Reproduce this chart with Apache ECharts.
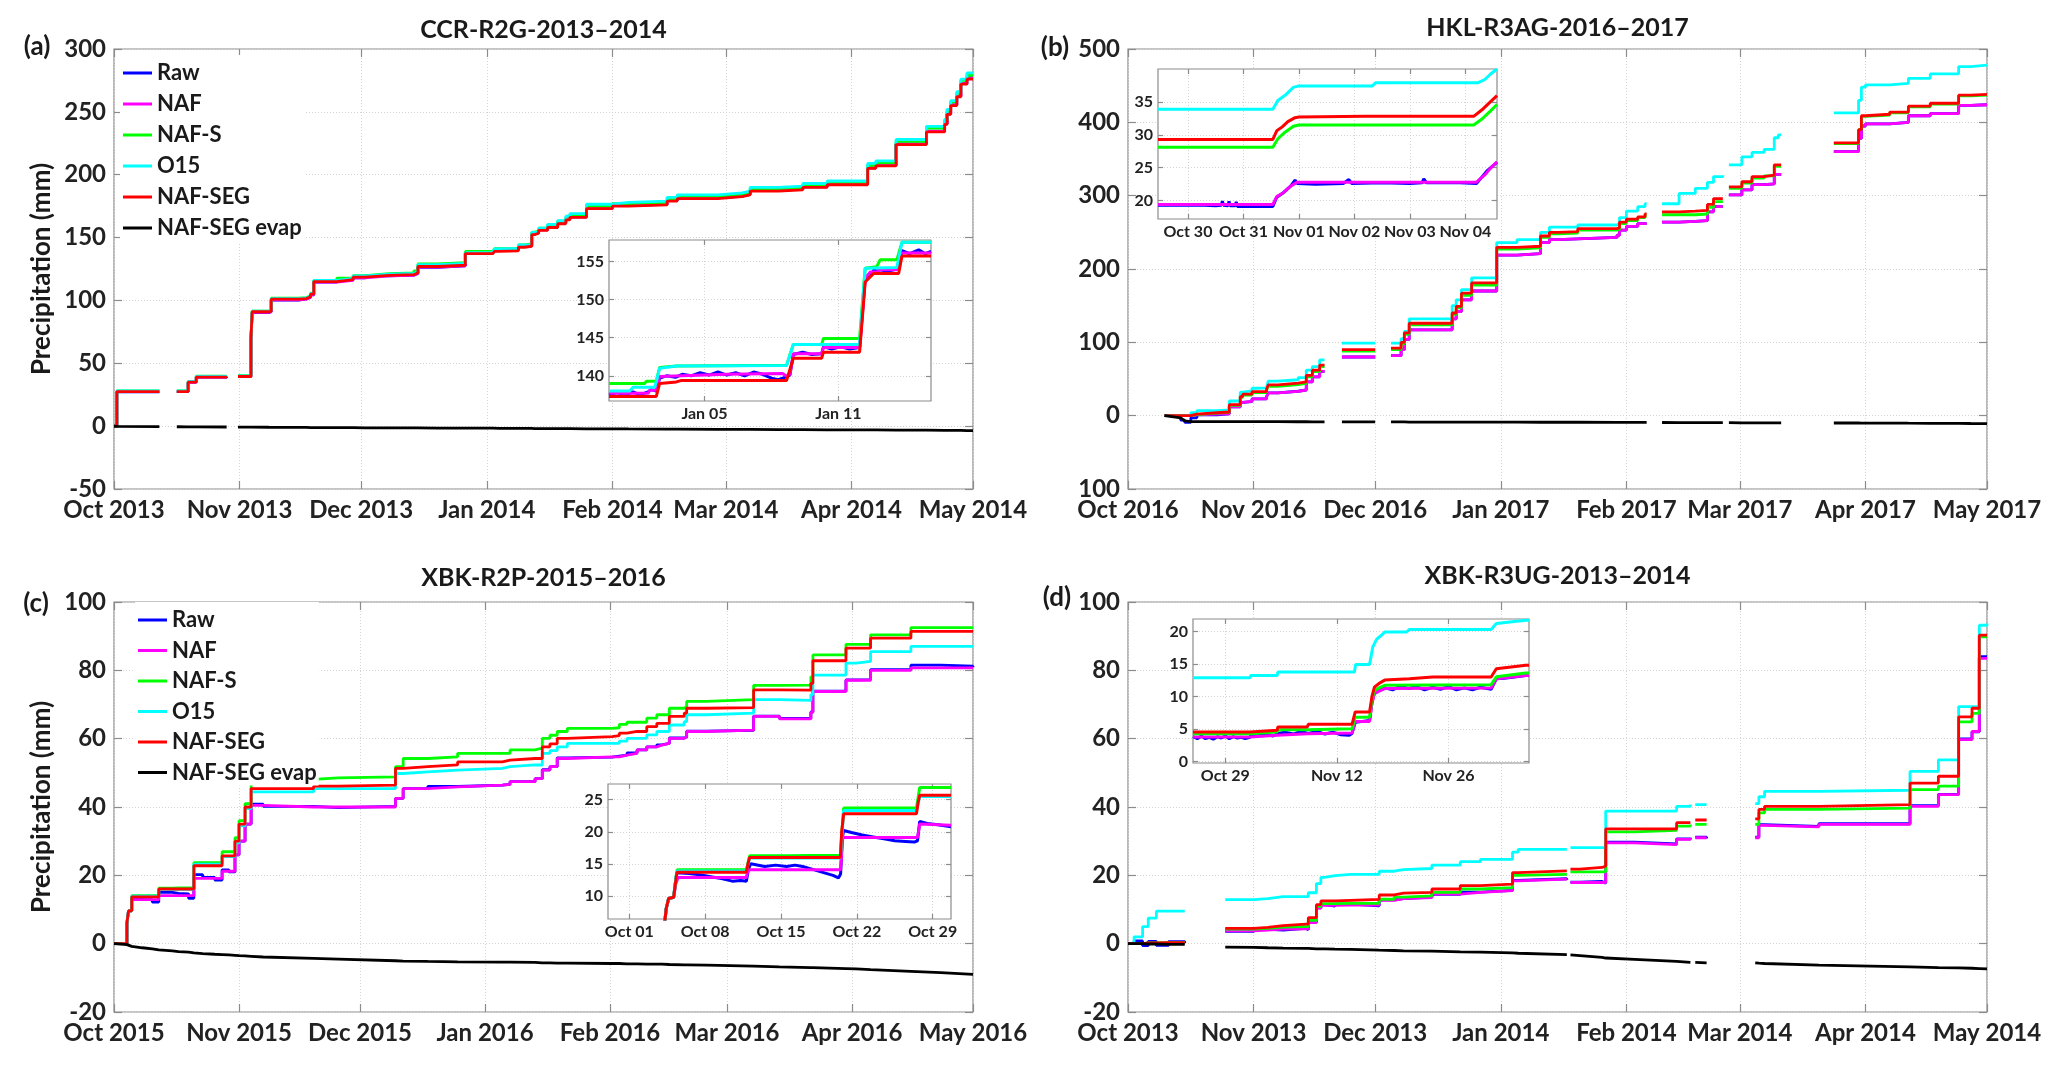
<!DOCTYPE html>
<html><head><meta charset="utf-8">
<script src="https://cdn.jsdelivr.net/npm/echarts@6.0.0/dist/echarts.min.js"></script>
<style>html,body{margin:0;padding:0;background:#fff}#c{width:2067px;height:1067px}</style>
</head><body><div id="c"></div>
<script>
// ---------- names / colours ----------
const NAMES = ['Raw','NAF','NAF-S','O15','NAF-SEG','NAF-SEG evap'];
const COLORS = ['#0000ff','#ff00ff','#00ff00','#00ffff','#ff0000','#000000'];

// ---------- panel (a) CCR-R2G-2013–2014 : days since 2013-10-01 ----------
const a_days = [0,0.7,11.2,11.3,15.5,18.3,20.3,27.8,27.9,30.6,33.3,33.8,34.1,38.2,38.8,45.6,47.5,48.5,49.3,55,59,62,68,74,75,80,86.7,92.7,93.5,93.9,95,99.8,101.3,103.1,103.8,104.8,107,109.5,111.5,112.5,116.6,123,127,136.5,139,149,155,157,164,170,176,183,186,188,193,200.5,205,205.6,206.5,208,209,210.5,212];
const a_seg  = [0,27.5,27.5,null,27.5,35,39,39.5,null,39.5,39.5,70,91,91.5,101,101.5,103,105,115,116.5,118.5,120,120.5,122,127,128,137.3,137.3,137.3,139,139.4,142.3,143.1,152.3,153.4,155.7,158,161,164,166,173,175,176,179,181,182.5,184,187,188,190,192,192,205,207,224,234,240,248,255,262,272,276,276];
const a_o15  = [0,28,28,null,28,35.5,39.5,40,null,40,40,70.5,91.5,92,101.5,102,103.5,105.5,116,117.5,119.5,121,121.5,123,128.5,129.5,138,138.5,138.5,141,141.35,144.1,144.1,154.1,154.1,157.5,160.5,163.5,167,169,176.5,178,179,182,184,185.5,187,190,191,193,195,195,209,211,228,238.5,244,252,259,266,276,281,281];
const a_nafs = [0,28,28,null,28,35.5,39.8,40.2,null,40.2,40.2,70.5,91.5,92,101.8,102.3,103.8,105.8,116,117.8,119.8,121.3,121.8,123.4,129,130,139,139,139.3,141.1,141.4,144.1,144.9,154.3,155.2,157.5,160,163,166,168,175,177,178,181,183,184.5,186,189,190,192,194,194,207.5,209.5,226.5,237,243,251,258,265,275,279,279];
const a_naf  = [0,27.5,27.5,null,27.5,35,39,39.5,null,39.5,39.5,69.5,90.5,91,100.5,101,102.5,104.5,114.5,116,118,119.5,120,121.5,126.5,127.5,137.7,137.7,138.1,139.9,140.1,142.9,143.7,152.8,153.9,156.1,158.5,161.5,164.5,166.5,173.5,175.5,176.5,179.5,181.5,183,184.5,187.5,188.5,190.5,192.5,192.5,205.5,207.5,224.5,234.5,240.5,248.5,255.5,262.5,272.5,277,277];
const a_raw  = [0,27.3,27.6,null,27.4,35,39,39.6,null,39.4,39.5,69.5,90.3,91,100.3,101.2,102.5,104.4,114.5,116.2,118,119.6,120.1,121.4,126.4,127.6,137.6,137.8,138,140,140.3,143,143.6,152.7,154,156.3,158.4,161.5,164.6,166.4,173.5,175.4,176.6,179.4,181.6,183,184.4,187.6,188.5,190.4,192.6,192.5,205.5,207.6,224.5,234.6,240.5,248.4,255.6,262.5,272.4,277.3,277];
const a_evap = [0,-0.2,-0.4,null,-0.5,-0.6,-0.6,-0.7,null,-0.8,-0.8,-0.8,-0.9,-0.9,-1,-1,-1,-1.1,-1.1,-1.2,-1.2,-1.3,-1.3,-1.4,-1.4,-1.5,-1.6,-1.6,-1.6,-1.7,-1.7,-1.8,-1.8,-1.8,-1.9,-1.9,-1.9,-2,-2,-2,-2.1,-2.1,-2.2,-2.3,-2.3,-2.5,-2.6,-2.6,-2.7,-2.8,-2.9,-3,-3,-3,-3.1,-3.2,-3.3,-3.3,-3.3,-3.4,-3.4,-3.5,-3.5];
const a_xticks = [0,31,61,92,123,151,182,212];
const a_xlabels = ['Oct 2013','Nov 2013','Dec 2013','Jan 2014','Feb 2014','Mar 2014','Apr 2014','May 2014'];
const a_yticks = [-50,0,50,100,150,200,250,300];
const a_ylabels = ['-50','0','50','100','150','200','250','300'];

// inset (a): days since 2014-01-05
const ia_raw  = [[-4.28,137.5],[-3.9,137.8],[-3.6,137.4],[-3.2,137.9],[-2.9,137.5],[-2.53,137.9],[-2.4,138.2],[-2.16,138.0],[-2.01,139.7],[-1.7,140.0],[-1.3,139.8],[-1.0,140.2],[-0.6,140.0],[-0.2,140.4],[0.2,140.1],[0.6,140.5],[1.0,140.1],[1.4,140.4],[1.8,140.0],[2.2,140.5],[2.6,140.2],[3.0,139.7],[3.3,139.5],[3.6,139.8],[3.83,140.1],[3.98,142.8],[4.4,143.1],[4.8,142.8],[5.25,142.9],[5.33,143.8],[5.7,143.5],[6.1,143.8],[6.5,143.5],[6.95,143.7],[7.2,152.6],[7.4,153.0],[7.6,153.9],[7.72,153.7],[7.87,153.9],[8.2,153.7],[8.62,154.0],[8.85,156.4],[9.2,156.0],[9.6,156.5],[9.9,156.0],[10.15,156.3]];
const ia_naf  = [[-4.28,137.7],[-2.53,137.7],[-2.45,138.1],[-2.16,138.1],[-2.01,139.9],[-1.0,140.0],[1,140.2],[3.5,140.3],[3.68,139.95],[3.83,140.2],[3.98,142.9],[5.25,142.9],[5.33,143.7],[6.95,143.7],[7.2,152.8],[7.43,153.6],[7.72,153.6],[7.87,153.9],[8.62,153.9],[8.85,156.1],[10.15,156.1]];
const ia_nafs = [[-4.28,139.0],[-2.68,139.0],[-2.6,139.3],[-2.16,139.3],[-2.01,141.1],[-1.26,141.3],[3.68,141.4],[3.98,144.1],[5.25,144.1],[5.33,144.9],[6.95,144.9],[7.2,154.1],[7.72,154.3],[7.87,155.2],[8.62,155.2],[8.85,157.5],[10.15,157.5]];
const ia_o15  = [[-4.28,138.0],[-3.35,138.0],[-3.2,138.5],[-2.23,138.5],[-2.01,141.0],[-1.26,141.3],[3.68,141.35],[3.98,144.1],[6.95,144.1],[7.2,154.1],[8.62,154.2],[8.85,157.5],[10.15,157.5]];
const ia_seg  = [[-4.28,137.3],[-2.16,137.3],[-2.01,139.0],[-1.26,139.2],[-1.03,139.4],[3.68,139.4],[3.98,142.3],[5.25,142.3],[5.33,143.1],[6.95,143.1],[7.2,152.3],[7.57,153.4],[8.7,153.4],[8.85,155.7],[10.15,155.7]];
const ia_xticks = [0,6], ia_xlabels = ['Jan 05','Jan 11'];
const ia_yticks = [140,145,150,155], ia_ylabels = ['140','145','150','155'];

// ---------- panel (b) HKL-R3AG-2016–2017 : days since 2016-10-01 ----------
const b_days = [9,13,14,15.5,17,22,25,27.7,28.3,30.6,32,34.2,34.6,37,42,44,45.5,47.3,48.5,48.6,52.8,61,61.1,64.9,67.4,68.2,69.4,80,81,82.3,84.8,91,96,101.8,104,106,111,120.7,121.3,123,125.8,127.6,128,128.1,131.8,136,140,143,144.5,146.8,146.9,148.3,151.5,154,157,159.5,160.5,161.2,161.3,174.2,180.3,181,182,188,192.6,198,205,208,212];
const b_seg  = [0,0,0,2,4,5,15,26,29.3,32.8,32.8,35.9,42,44.5,46,55,62,69,69,null,90,90,null,92,100,113,126,140,149,167,181,229.5,231,245,250,251,255,256,264,268,271,275,275,null,278,279,280,288,296,296,null,312,319,326,328,342,342,342,null,372,390,409,411,414,422,426,437,438,438];
const b_o15  = [0,0,0,4,7,8,20,32,33.9,37.4,37.9,40,47,49,52,62,67,76,76,null,99,99,null,99,105,115,132,150,158,172,188,236,240,250,257,257,260,262,270,279,285,289,289,null,289,303,310,318,326,328,null,342,353,359,363,379,383,383,null,413,430,448,451,453,460,466,476,478,478];
const b_nafs = [0,0,0,1.5,3.5,4.5,14,25,28.1,31.5,31.5,34.6,40,42.5,44,53,60,67,67,null,88,88,null,90,98,111,124,138,147,164,178,227,229,243,248,249,253,254,262,266,270,273,273,null,274,274,275,284,292,292,null,310,317,324,327,340,340,340,null,371,390,408,410,413,421,425,436,437,437];
const b_naf  = [0,0,0,1,2,2.5,12,18,19.4,22.8,22.8,25.9,31,33,35,46,53,60.5,60.5,null,80,80,null,82,90,104,117,132,142,158,170,219,221,236,240,241,243,246,253,258,262,262,262,null,264,265,266,278,285,285,null,301,308,315,316,329,329,329,null,360,378,395,398,400,409,412,423,424,424];
const b_raw  = [0,-6,-9,-3,1,2.5,12,18,19.2,22.8,22.9,25.9,31,33.3,35,46,53,60.5,60.5,null,80,80,null,82,90,104,117,132,142,158,170,219,221,236,240,241,243,246,253,258,262,262,262,null,264,265,266,278,285,285,null,301,308,315,316,329,329,329,null,360,378,395,398,400,409,412,423,424,424];
const b_evap = [0,-3,-7,-8,-8,-8,-8,-8,-8.1,-8.1,-8.1,-8.1,-8.2,-8.2,-8.3,-8.3,-8.4,-8.4,-8.4,null,-8.5,-8.5,null,-8.6,-8.6,-8.6,-8.7,-8.7,-8.8,-8.8,-8.8,-8.9,-8.9,-9,-9,-9,-9,-9.1,-9.1,-9.1,-9.2,-9.2,-9.2,null,-9.3,-9.4,-9.4,-9.5,-9.5,-9.5,null,-9.6,-9.7,-9.7,-9.8,-9.8,-9.8,-9.8,null,-10,-10,-10.1,-10.1,-10.2,-10.3,-10.4,-10.6,-10.7,-10.8];
const b_xticks = [0,31,61,92,123,151,182,212];
const b_xlabels = ['Oct 2016','Nov 2016','Dec 2016','Jan 2017','Feb 2017','Mar 2017','Apr 2017','May 2017'];
const b_yticks = [-100,0,100,200,300,400,500];
const b_ylabels = ['100','0','100','200','300','400','500'];

// inset (b): days since 2016-10-30
const ib_raw  = [[-0.54,19.3],[0.3,19.3],[0.5,19.2],[0.6,19.3],[0.62,19.9],[0.64,19.3],[0.72,19.2],[0.74,19.9],[0.76,19.2],[0.85,19.2],[0.87,19.8],[0.89,19.1],[1.53,19.1],[1.6,20.5],[1.72,21.2],[1.85,22.2],[1.93,23.1],[1.97,22.6],[2.3,22.5],[2.8,22.6],[2.9,23.2],[2.95,22.6],[3.5,22.7],[4.0,22.6],[4.22,22.7],[4.25,23.3],[4.3,22.7],[4.9,22.7],[5.2,22.6],[5.3,23.6],[5.4,24.6],[5.5,25.3],[5.57,25.8]];
const ib_naf  = [[-0.54,19.4],[1.53,19.4],[1.6,20.6],[1.72,21.2],[1.85,22.2],[1.97,22.8],[5.2,22.8],[5.35,23.9],[5.45,24.9],[5.57,25.9]];
const ib_nafs = [[-0.54,28.1],[1.53,28.1],[1.62,29.4],[1.75,30.4],[1.9,31.3],[2.0,31.5],[5.15,31.5],[5.3,32.4],[5.45,33.6],[5.57,34.6]];
const ib_o15  = [[-0.54,33.9],[1.53,33.9],[1.62,35.2],[1.75,36.0],[1.9,37.2],[1.98,37.4],[3.32,37.4],[3.38,37.9],[5.22,37.9],[5.35,38.4],[5.45,39.2],[5.57,40.0]];
const ib_seg  = [[-0.54,29.3],[1.53,29.3],[1.6,30.6],[1.7,31.2],[1.8,32.0],[1.93,32.6],[2.0,32.7],[3.2,32.8],[5.15,32.8],[5.3,33.8],[5.45,35.0],[5.57,35.96]];
const ib_xticks = [0,1,2,3,4,5], ib_xlabels = ['Oct 30','Oct 31','Nov 01','Nov 02','Nov 03','Nov 04'];
const ib_yticks = [20,25,30,35], ib_ylabels = ['20','25','30','35'];

// ---------- panel (c) XBK-R2P-2015–2016 : days since 2015-10-01 ----------
const c_days = [0,3.2,3.6,4.4,7,9.5,11.1,14.5,16,18.5,19.8,22,25,26.8,28.5,30,31,32.5,34,37,49.5,55.6,69.8,71.7,77.8,85.2,96.3,98.2,104.4,106.2,108.1,109.9,112.4,123.5,125.3,127.2,129.7,132.1,134.6,135.8,137.7,141.4,142,146.9,158.6,165,172.8,173.3,181.5,184,187.6,197.6,205,213];
const c_seg  = [0,6,9.6,13.7,13.7,13.7,16,16,16,16,22.8,22.8,22.8,25.7,25.7,30,35,40,45.4,45.4,46.1,46.4,51.3,51.8,52.3,53.2,53.7,54.2,54.2,57.6,58.5,60.1,60.6,60.9,61.6,62.1,62.1,63.5,64.5,64.5,66.5,67.5,68.9,69.1,74.3,74.2,76.2,82.8,86.5,86.5,89.4,91.4,91.4,91.4];
const c_o15  = [0,6,9.6,13.9,13.9,13.9,15.9,15.9,15.9,15.9,23.3,23.3,23.3,25.5,25.5,29.5,34.5,39.5,44.4,44.4,45.4,45.4,49.8,50.3,50.8,51.3,51.8,52.3,52.3,55.7,56.5,57.6,58.6,58.6,59.3,60.1,60.1,61.1,62.1,62.1,64,65,67,67.5,71.4,71.2,72.9,78.6,82.1,82.6,85.5,87,87,87];
const c_nafs = [0,6,9.6,14.06,14.06,14.06,16.25,16.3,16.3,16.3,23.7,23.7,23.7,26.9,26.9,31,36,41,48.1,48.1,48.5,48.8,51.8,54.2,54.7,55.7,55.7,56.7,57.2,60.1,61,62.1,63,63.2,64.2,64.8,64.8,66,67,67,68.9,69.4,70.9,71.4,75.6,75.7,78.1,84.5,87.6,87.6,90.4,92.5,92.5,92.5];
const c_naf  = [0,6,9.6,12.9,12.9,12.9,14.06,14.06,14.06,14.06,19.1,19.1,19.1,21.2,21.2,26,30,35,40.5,40,40,40,42.5,45.4,45.9,46.4,46.6,47.4,48.3,50.8,51.8,54.2,54.7,54.7,55.2,55.7,56.7,57.6,58.1,58.6,60.1,60.6,62.1,62.5,66.5,65.8,67.7,73.8,77.1,77.1,80,80.7,80.7,80.7];
const c_raw  = [0,6,9.6,13.5,12.9,12.2,15,14.7,14.6,13.3,20.2,19.4,18.6,21.6,21,26,30,35,40.8,40.2,39.8,40.2,42.5,45.4,46,46.4,46.6,47.4,48.3,50.9,51.8,54.4,54.6,54.9,55.2,55.8,56.7,57.6,58.2,58.6,60.2,60.5,62.2,62.4,66.6,65.9,67.8,73.9,77.2,77.3,80.2,81.5,81.2,80.9];
const c_evap = [0,-0.3,-0.4,-0.8,-1.2,-1.5,-1.8,-2.1,-2.3,-2.5,-2.7,-2.9,-3.1,-3.2,-3.3,-3.4,-3.5,-3.6,-3.7,-3.9,-4.3,-4.5,-5,-5.1,-5.2,-5.3,-5.4,-5.4,-5.5,-5.6,-5.6,-5.7,-5.7,-5.8,-5.8,-5.9,-5.9,-6,-6,-6,-6.1,-6.2,-6.2,-6.3,-6.6,-6.8,-7,-7,-7.3,-7.4,-7.6,-8.1,-8.5,-9];
const c_xticks = [0,31,61,92,123,152,183,213];
const c_xlabels = ['Oct 2015','Nov 2015','Dec 2015','Jan 2016','Feb 2016','Mar 2016','Apr 2016','May 2016'];
const c_yticks = [-20,0,20,40,60,80,100];
const c_ylabels = ['-20','0','20','40','60','80','100'];

// inset (c): days since 2015-10-01
const ic_raw  = [[0,0],[2.9,0],[3.4,8.0],[3.63,9.6],[4.09,9.8],[4.3,12.8],[4.4,13.6],[5.5,13.5],[6.5,13.3],[7.5,13.0],[8.5,12.7],[9.5,12.3],[10.3,12.4],[10.8,12.3],[11.0,14.2],[11.2,15.0],[12.5,14.6],[13.5,14.8],[14.5,14.6],[15.3,14.8],[16.0,14.6],[17.0,14.1],[18.0,13.6],[18.8,13.2],[19.3,12.8],[19.5,13.4],[19.65,19.0],[19.78,20.2],[20.5,19.9],[21.5,19.5],[22.5,19.2],[23.5,18.9],[24.5,18.6],[25.5,18.5],[26.3,18.4],[26.6,18.6],[26.8,21.6],[27.5,21.3],[28.5,21.1],[29.69,20.8]];
const ic_naf  = [[0,0],[2.9,0],[3.4,8.0],[3.63,9.6],[4.09,9.8],[4.3,12.0],[4.5,12.87],[10.8,12.87],[10.95,14.06],[19.5,14.06],[19.7,19.1],[26.6,19.1],[26.8,21.2],[29.69,21.0]];
const ic_nafs = [[0,0],[2.9,0],[3.4,8.0],[3.63,9.6],[4.09,9.8],[4.3,12.8],[4.4,14.06],[10.8,14.06],[11.1,16.25],[14.5,16.25],[14.6,16.35],[19.48,16.35],[19.78,23.7],[26.5,23.7],[26.8,26.9],[29.69,26.9]];
const ic_o15  = [[0,0],[2.9,0],[3.4,8.0],[3.63,9.6],[4.09,9.8],[4.3,12.7],[4.4,13.9],[10.8,13.9],[11.1,15.9],[19.48,15.9],[19.78,23.3],[26.5,23.3],[26.8,25.5],[29.69,25.5]];
const ic_seg  = [[0,0],[2.9,0],[3.4,8.0],[3.63,9.6],[4.09,9.8],[4.3,12.5],[4.4,13.7],[10.8,13.7],[10.95,15.0],[11.1,16.0],[19.48,16.0],[19.6,20.0],[19.78,22.8],[26.5,22.8],[26.65,24.5],[26.8,25.7],[29.69,25.7]];
const ic_xticks = [0,7,14,21,28], ic_xlabels = ['Oct 01','Oct 08','Oct 15','Oct 22','Oct 29'];
const ic_yticks = [10,15,20,25], ic_ylabels = ['10','15','20','25'];

// ---------- panel (d) XBK-R3UG-2013–2014 : days since 2013-10-01 ----------
const d_days = [0,1.5,3.6,5,7,10,14,14.1,24,31.1,34.5,38.3,43.9,44.5,46.5,47.6,48.5,51.1,55,62,65.7,68,75,82,87,94.9,96.3,108.3,108.4,109.2,111.5,117,117.9,125,135.4,138.8,138.9,140,142.8,142.9,154.8,155.7,157.1,170.5,193,200,205,208.3,210.1,212];
const d_seg  = [0,0,0.2,0.2,0.3,0.3,0.3,null,4.5,4.77,5.3,5.7,5.7,7.6,11.4,12.5,12.5,12.7,12.97,14.25,14.77,15,16,17,17.4,20.8,21.3,21.3,null,21.8,22.3,22.7,33.6,33.6,35.4,35.4,null,36.2,36.2,null,36.5,39.3,40.2,40.7,47,49,66.4,68.9,90.3,90.3];
const d_o15  = [0,2,5,7.5,9.5,9.5,9.5,null,12.87,13.2,13.74,13.74,13.74,14.9,17.6,19.4,19.9,20.3,20.3,21.2,21.7,22,23,24,24.7,26.8,27.6,27.6,null,28.1,28.1,28.1,38.8,38.8,40.2,40.7,null,40.7,40.7,null,41,43,44.6,44.9,50.4,53.8,69.4,69.4,93.2,93.7];
const d_nafs = [0,0,0.2,0.2,0.3,0.3,0.3,null,4.26,4.5,4.87,5,5,6.8,10.9,11.7,11.7,11.8,11.8,13,13.6,14,15,16,16.4,20,20.3,20.3,null,21,21,21,32.7,33.2,34.4,34.9,null,34.9,34.9,null,34.9,38.3,39.3,39.7,45.1,46.1,64.9,67.4,89.8,89.8];
const d_naf  = [0,0,0.1,0.1,0.2,0.2,0.2,null,3.74,4,4.26,4.36,4.36,6.15,10.4,11.2,11.2,11.3,11.3,12.7,13.2,13.5,14.5,15,15.5,18.4,18.9,18.9,null,17.9,17.9,17.9,29.5,29,30.5,31,null,31,31,null,31,34.6,34.2,34.9,40.2,43.6,59.7,62.1,83.5,83.5];
const d_raw  = [0,0.8,-0.6,0.7,-0.5,0.6,0.2,null,3.6,4.2,4,4.5,4.1,6.3,10.5,11.4,11,11.6,11.1,12.8,13.2,13.6,14.4,15.1,15.6,18.5,19,18.7,null,18,18.2,17.7,29.7,29.2,30.7,31,null,31.2,30.8,null,31.2,34.8,34.3,35.1,40.4,43.7,59.9,62,84,83.8];
const d_evap = [0,0,0,-0.1,-0.1,-0.2,-0.2,null,-1,-1.1,-1.2,-1.3,-1.4,-1.4,-1.5,-1.5,-1.5,-1.6,-1.7,-1.9,-2,-2.1,-2.2,-2.4,-2.5,-2.7,-2.8,-3.2,null,-3.3,-3.5,-4,-4.2,-4.6,-5.2,-5.5,null,-5.5,-5.6,null,-5.6,-5.7,-5.8,-6.3,-6.8,-7,-7.1,-7.2,-7.3,-7.4];
const d_xticks = [0,31,61,92,123,151,182,212];
const d_xlabels = ['Oct 2013','Nov 2013','Dec 2013','Jan 2014','Feb 2014','Mar 2014','Apr 2014','May 2014'];
const d_yticks = [-20,0,20,40,60,80,100];
const d_ylabels = ['-20','0','20','40','60','80','100'];

// inset (d): days since 2013-10-29
const id_raw  = [[-4.05,3.8],[-3.5,3.5],[-3,3.9],[-2.5,3.5],[-2,3.7],[-1.5,3.4],[-1,3.8],[-0.5,3.6],[0,3.9],[0.5,3.5],[1,3.8],[1.5,3.6],[2,3.7],[2.5,3.5],[3.1,3.7],[3.2,4.1],[4,3.9],[5,4.2],[6,3.9],[6.6,4.3],[7.5,4.5],[8.5,4.2],[9.5,4.6],[10.4,4.3],[11.5,4.6],[12.5,4.2],[13.5,4.5],[14.5,4.1],[15.5,4.0],[15.9,4.3],[16.3,6.0],[18.1,6.3],[18.4,9.0],[18.7,10.6],[19.3,10.9],[20.0,11.3],[21,11.0],[22,11.6],[23,11.2],[24,11.5],[25,11.0],[26,11.4],[27,11.1],[28,11.5],[29,11.0],[30,11.3],[31,11.0],[32,11.4],[33.35,11.1],[34.0,12.7],[35,12.8],[36.5,13.0],[38.1,13.3]];
const id_naf  = [[-4.05,3.74],[3.1,3.74],[3.2,4.0],[6.5,4.0],[6.6,4.26],[10.3,4.26],[10.4,4.36],[15.9,4.36],[16.3,6.15],[18.1,6.15],[18.4,9.0],[18.7,10.4],[19.3,10.8],[20.0,11.2],[33.35,11.3],[34.0,12.7],[37.7,13.2],[38.1,13.2]];
const id_nafs = [[-4.05,4.26],[3.1,4.26],[3.2,4.5],[6.5,4.5],[6.6,4.87],[10.3,4.87],[10.4,5.0],[15.9,5.0],[16.3,6.8],[18.1,6.8],[18.4,9.5],[18.7,10.9],[19.3,11.3],[20.0,11.7],[33.35,11.8],[34.0,13.0],[37.7,13.6],[38.1,13.6]];
const id_o15  = [[-4.05,12.87],[3.1,12.87],[3.2,13.2],[6.5,13.2],[6.6,13.74],[16.2,13.74],[16.35,14.9],[18.1,14.9],[18.5,17.6],[19.0,18.8],[19.6,19.4],[20.0,19.9],[22.75,19.9],[23.1,20.3],[33.35,20.3],[34.0,21.2],[37.7,21.7],[38.1,21.7]];
const id_seg  = [[-4.05,4.5],[3.1,4.5],[3.2,4.77],[6.5,4.77],[6.6,5.3],[10.3,5.3],[10.4,5.7],[15.9,5.7],[16.3,7.6],[18.1,7.6],[18.4,10.0],[18.7,11.4],[19.3,12.0],[20.0,12.5],[23.1,12.7],[26,12.97],[33.35,12.97],[34.0,14.25],[37.7,14.77],[38.1,14.8]];
const id_xticks = [0,14,28], id_xlabels = ['Oct 29','Nov 12','Nov 26'];
const id_yticks = [0,5,10,15,20], id_ylabels = ['0','5','10','15','20'];

// ---------- build ----------
const AX = '#8c8c8c', GRIDC = '#d4d4d4', LAB = '#222222', FONT = 'Lato';
const zip = (xs, ys) => xs.map((x, i) => [x, ys[i]]);
function pick(ticks, labels, v) { for (let i = 0; i < ticks.length; i++) if (Math.abs(ticks[i] - v) < 1e-6) return labels[i]; return ''; }

const option = { animation:false, backgroundColor:'#ffffff', textStyle:{fontFamily:FONT}, grid:[], xAxis:[], yAxis:[], series:[], legend:[], graphic:{elements:[]} };

function addPanel(p) {
  const gi = option.grid.length;
  option.grid.push({ left:p.box[0], top:p.box[1], width:p.box[2], height:p.box[3], show:true, borderColor:AX, borderWidth:1.2,
    backgroundColor: p.inset ? '#ffffff' : 'transparent', z: p.inset ? 3 : 0 });
  const z = p.inset ? 4 : 0;
  const lab = { color:LAB, fontFamily:FONT, fontWeight:'bold', fontSize:p.fs };
  const tick = vals => ({ show:true, inside:true, length:p.tl, customValues:vals, lineStyle:{color:AX, width:1.2} });
  const split = { show:true, lineStyle:{ color:GRIDC, width:1, type:[1,2] } };
  const noLine = { show:false, onZero:false };
  const xi = option.xAxis.length, yi = option.yAxis.length;
  option.xAxis.push({ type:'value', gridIndex:gi, position:'bottom', min:p.x[0], max:p.x[1], z,
    axisLine:noLine, axisTick:tick(p.xt), splitLine:split,
    axisLabel:{ ...lab, margin:p.xm, customValues:p.xt, formatter:v => pick(p.xt, p.xl, v) } });
  option.xAxis.push({ type:'value', gridIndex:gi, position:'top', min:p.x[0], max:p.x[1], z,
    axisLine:noLine, axisTick:tick(p.xt), splitLine:{show:false}, axisLabel:{show:false} });
  option.yAxis.push({ type:'value', gridIndex:gi, position:'left', min:p.y[0], max:p.y[1], z,
    axisLine:noLine, axisTick:tick(p.yt), splitLine:split,
    axisLabel:{ ...lab, margin:p.ym, customValues:p.yt, formatter:v => pick(p.yt, p.yl, v) } });
  option.yAxis.push({ type:'value', gridIndex:gi, position:'right', min:p.y[0], max:p.y[1], z,
    axisLine:noLine, axisTick:tick(p.yt), splitLine:{show:false}, axisLabel:{show:false} });
  p.series.forEach(s => {
    option.series.push({ type:'line', name:s.name, xAxisIndex:xi, yAxisIndex:yi, data:s.data,
      step:s.step || false, showSymbol:false, symbol:'none', color:s.color, itemStyle:{color:s.color},
      lineStyle:{ color:s.color, width:p.lw }, z: p.inset ? 5 : 2, clip:true, silent:true, connectNulls:false });
  });
}

function mainSeries(days, arrs) {
  return arrs.map((a, i) => ({ name:NAMES[i], color:COLORS[i], data:zip(days, a), step: i < 5 ? 'end' : false }));
}
function insetSeries(arrs) {
  return arrs.map((a, i) => ({ name:NAMES[i], color:COLORS[i], data:a }));
}

const MAIN = { fs:24, tl:8, xm:9, ym:8, lw:2.8 };
const INS  = { fs:16, tl:5, xm:5, ym:5, lw:3, inset:true };

addPanel({ ...MAIN, box:[114,49,859,440], x:[0,212], y:[-50,300], xt:a_xticks, xl:a_xlabels, yt:a_yticks, yl:a_ylabels,
  series: mainSeries(a_days, [a_raw,a_naf,a_nafs,a_o15,a_seg,a_evap]) });
addPanel({ ...MAIN, box:[1128,49,859,440], x:[0,212], y:[-100,500], xt:b_xticks, xl:b_xlabels, yt:b_yticks, yl:b_ylabels,
  series: mainSeries(b_days, [b_raw,b_naf,b_nafs,b_o15,b_seg,b_evap]) });
addPanel({ ...MAIN, box:[114,602,859,410], x:[0,213], y:[-20,100], xt:c_xticks, xl:c_xlabels, yt:c_yticks, yl:c_ylabels,
  series: mainSeries(c_days, [c_raw,c_naf,c_nafs,c_o15,c_seg,c_evap]) });
addPanel({ ...MAIN, box:[1128,602,859,410], x:[0,212], y:[-20,100], xt:d_xticks, xl:d_xlabels, yt:d_yticks, yl:d_ylabels,
  series: mainSeries(d_days, [d_raw,d_naf,d_nafs,d_o15,d_seg,d_evap]) });

addPanel({ ...INS, box:[609,240,322,161], x:[-4.28,10.15], y:[136.7,157.8], xt:ia_xticks, xl:ia_xlabels, yt:ia_yticks, yl:ia_ylabels,
  series: insetSeries([ia_raw,ia_naf,ia_nafs,ia_o15,ia_seg]) });
addPanel({ ...INS, box:[1158,69,339,150], x:[-0.54,5.57], y:[17.2,40], xt:ib_xticks, xl:ib_xlabels, yt:ib_yticks, yl:ib_ylabels,
  series: insetSeries([ib_raw,ib_naf,ib_nafs,ib_o15,ib_seg]) });
addPanel({ ...INS, box:[608,784,343,135], x:[-1.97,29.69], y:[6.4,27.45], xt:ic_xticks, xl:ic_xlabels, yt:ic_yticks, yl:ic_ylabels,
  series: insetSeries([ic_raw,ic_naf,ic_nafs,ic_o15,ic_seg]) });
addPanel({ ...INS, box:[1193,619,336,144], x:[-4.05,38.1], y:[-0.25,21.9], xt:id_xticks, xl:id_xlabels, yt:id_yticks, yl:id_ylabels,
  series: insetSeries([id_raw,id_naf,id_nafs,id_o15,id_seg]) });

const legendBase = { data:NAMES, orient:'vertical', icon:'rect', itemWidth:29, itemHeight:3, selectedMode:false,
  backgroundColor:'#ffffff', z:4, textStyle:{ fontFamily:FONT, fontWeight:'bold', fontSize:22, color:'#1a1a1a', lineHeight:26 } };
option.legend.push({ ...legendBase, left:120, top:55, itemGap:5, padding:[5,3,3,3] });
option.legend.push({ ...legendBase, left:135, top:602, itemGap:4.5, padding:[5,2,0,3] });

const txt = (t, x, y, size, rot) => ({ type:'text', x, y, rotation: rot || 0, z:10, silent:true,
  style:{ text:t, x:0, y:0, fill:'#1a1a1a', font:'bold ' + size + 'px ' + FONT, textAlign:'center', textVerticalAlign:'middle', align:'center', verticalAlign:'middle' } });
option.graphic.elements.push(
  txt('CCR-R2G-2013–2014', 543.5, 30, 25), txt('HKL-R3AG-2016–2017', 1557.5, 28, 25),
  txt('XBK-R2P-2015–2016', 543.5, 578, 25), txt('XBK-R3UG-2013–2014', 1557.5, 576, 25),
  txt('(a)', 37, 47, 26), txt('(b)', 1055, 48, 26), txt('(c)', 36, 604, 26), txt('(d)', 1057, 598, 26),
  txt('Precipitation (mm)', 42, 269, 26, Math.PI / 2), txt('Precipitation (mm)', 42, 807, 26, Math.PI / 2)
);

const chart = echarts.init(document.getElementById('c'), null, { renderer:'canvas', width:2067, height:1067 });
chart.setOption(option);
</script></body></html>
